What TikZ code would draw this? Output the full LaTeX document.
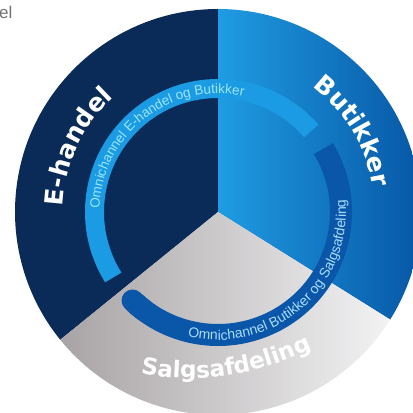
\documentclass[tikz,border=0pt]{standalone}
\usepackage{fontspec}
\setmainfont{Liberation Sans}
\newfontfamily\bigfont{DejaVu Sans}
\usetikzlibrary{decorations.text}
\definecolor{navy}{HTML}{0A2B58}
\definecolor{bluein}{HTML}{1F9CE2}
\definecolor{blueout}{HTML}{0757A6}
\definecolor{lightarc}{HTML}{1B9BE3}
\definecolor{darkarc}{HTML}{0A56A8}
\definecolor{lighttxt}{HTML}{9BE6FF}
\definecolor{darktxt}{HTML}{A8DDFF}
\definecolor{grayL}{HTML}{A7A2A4}
\definecolor{grayM}{HTML}{CDC9CB}
\definecolor{grayR}{HTML}{F4F4F5}
\tikzset{
  bigtext/.style={decorate, decoration={text along path, text align=center, text color=white,
     text={|\bigfont\bfseries\fontsize{#1}{30}\selectfont|}}},
}
\begin{document}
\begin{tikzpicture}[x=1pt,y=1pt]
\useasboundingbox (0,0) rectangle (413,413);
\coordinate (C) at (218,201);
\def\R{203}
% E-handel sector
\fill[navy] (C) -- ++(90:\R) arc[start angle=90,end angle=219,radius=\R] -- cycle;
% Butikker sector
\begin{scope}
\clip (C) -- ++(-32:\R) arc[start angle=-32,end angle=90,radius=\R] -- cycle;
\shade[left color=bluein, right color=blueout] (218,0) rectangle (421,413);
\end{scope}
% Salgsafdeling sector
\begin{scope}
\clip (C) -- ++(219:\R) arc[start angle=219,end angle=328,radius=\R] -- cycle;
\shade[left color=grayL, middle color=grayM, right color=grayR] (55,0) rectangle (395,215);
\end{scope}
% inner arcs
\draw[lightarc, line width=19] ([shift={(41:123.5)}]C) arc[start angle=41,end angle=212,radius=123.5];
\draw[darkarc, line width=22] ([shift={(31:123)}]C) arc[start angle=31,end angle=-132,radius=123];
\draw[darkarc, line width=22, line cap=round] ([shift={(-134:123)}]C) arc[start angle=-134,end angle=-127,radius=123];
% arc texts
\path[decorate, decoration={text along path, text align=center, text color=lighttxt,
  text={|\fontsize{13.5}{16}\selectfont|Omnichannel E-handel og Butikker}}]
  ([shift={(200:118.5)}]C) arc[start angle=200,end angle=56,radius=118.5];
\path[decorate, decoration={text along path, text align=center, text color=darktxt,
  text={|\fontsize{14}{16}\selectfont|Omnichannel Butikker og Salgsafdeling}}]
  ([shift={(-124:128)}]C) arc[start angle=-124,end angle=26,radius=128];
% big labels
\path[decorate, decoration={text along path, text align=center, text color=white,
  text={|\bigfont\bfseries\fontsize{25}{30}\selectfont|E-handel}}]
  ([shift={(200:155)}]C) arc[start angle=200,end angle=110,radius=155];
\path[decorate, decoration={text along path, text align=center, text color=white,
  text={|\bigfont\bfseries\fontsize{25}{30}\selectfont|Butikker}}]
  ([shift={(76:157)}]C) arc[start angle=76,end angle=-14,radius=157];
\coordinate (s0) at (110,47.4);
\coordinate (s3) at (340,78.7);
\path[decorate, decoration={text along path, text align=center, text color=white,
  text={|\bigfont\bfseries\fontsize{23}{30}\selectfont|Salgsafdeling}}]
  (s0) .. controls (186.7,23.6) and (263.3,34.0) .. (s3);
% corner fragment
\node[anchor=base west, text=black!55, font=\fontsize{17}{20}\selectfont, inner sep=0] (el) at (-1,394) {el};
\end{tikzpicture}
\end{document}
